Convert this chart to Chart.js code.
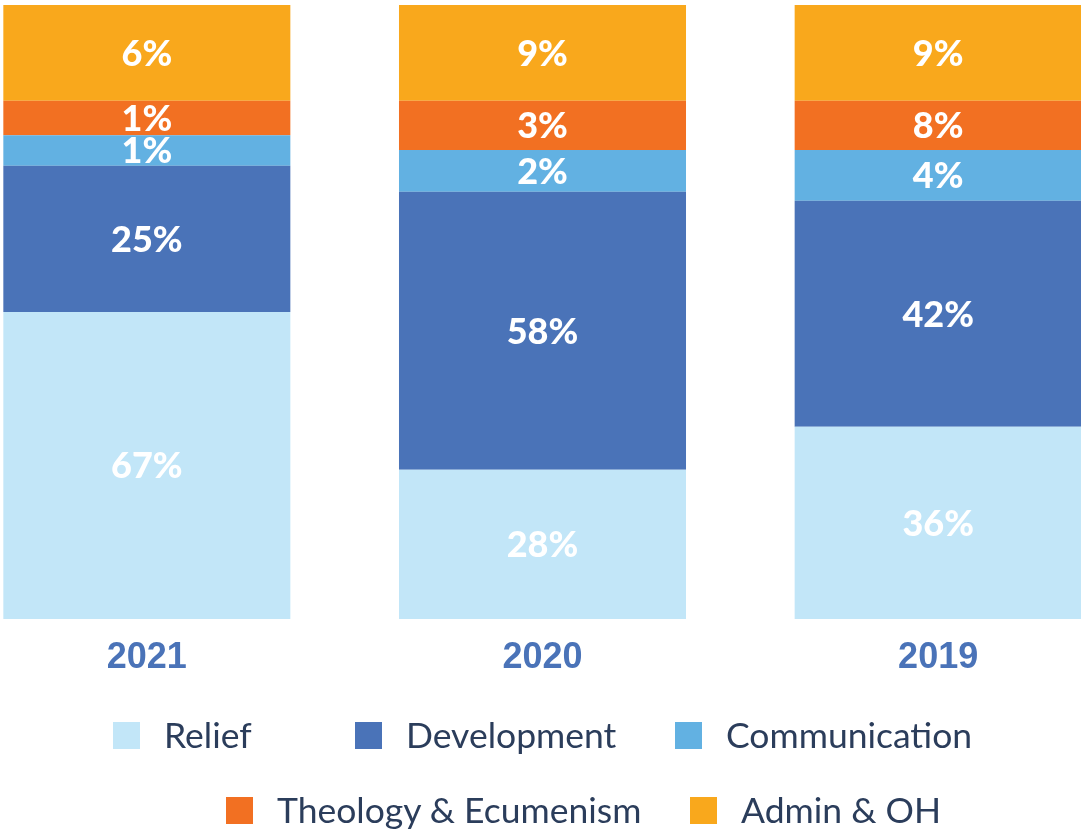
<!DOCTYPE html>
<html>
<head>
<meta charset="utf-8">
<script src="https://cdn.jsdelivr.net/npm/chart.js@4.4.1/dist/chart.umd.min.js"></script>
<style>
  html, body { margin: 0; padding: 0; background: #fff; overflow: hidden; }
  body { width: 1081px; height: 833px; position: relative; }
  #wrap { position: absolute; left: -51px; top: 0; width: 1187px; height: 700px; }
  #legend { position: absolute; left: 0; top: 0; width: 1081px; height: 833px; pointer-events: none;
            font-family: Lato, 'Noto Sans', sans-serif; font-size: 35.5px; color: #2b3d5b; }
  .item { position: absolute; display: flex; align-items: center; height: 36px; line-height: 36px; white-space: nowrap; }
  .item .box { width: 27px; height: 27px; margin-right: 24px; flex: none; }
  .item:nth-child(1) { left: 113px; top: 717px; }
  .item:nth-child(2) { left: 355px; top: 717px; }
  .item:nth-child(3) { left: 675px; top: 717px; }
  .item:nth-child(4) { left: 226px; top: 792px; }
  .item:nth-child(5) { left: 690px; top: 792px; }
</style>
</head>
<body>
<div id="wrap"><canvas id="grafico"></canvas></div>
<div id="legend"></div>
<script>
const anios = ['2021', '2020', '2019']

// alto de cada segmento (suma 100 por barra)
const relief = [50.0, 24.3, 31.3]
const development = [23.8, 45.3, 36.8]
const communication = [5.0, 6.8, 8.3]
const theology = [5.6, 8.0, 8.0]
const admin = [15.6, 15.6, 15.6]

// porcentajes que se muestran como etiqueta
const reliefPct = [67, 28, 36]
const developmentPct = [25, 58, 42]
const communicationPct = [1, 2, 4]
const theologyPct = [1, 3, 8]
const adminPct = [6, 9, 9]

const canvasGrafico = document.querySelector('#grafico')
const divLegend = document.querySelector('#legend')

const datasets = [
    { label: 'Relief', data: relief, etiquetas: reliefPct, backgroundColor: '#c2e6f8' },
    { label: 'Development', data: development, etiquetas: developmentPct, backgroundColor: '#4a73b8' },
    { label: 'Communication', data: communication, etiquetas: communicationPct, backgroundColor: '#62b1e2' },
    { label: 'Theology & Ecumenism', data: theology, etiquetas: theologyPct, backgroundColor: '#f27022' },
    { label: 'Admin & OH', data: admin, etiquetas: adminPct, backgroundColor: '#f9a81c' }
].map(ds => ({ ...ds, borderWidth: 0, barPercentage: 0.7254, categoryPercentage: 1 }))

const etiquetasPlugin = {
    id: 'etiquetas',
    afterDatasetsDraw(chart) {
        const ctx = chart.ctx
        const size = 36
        ctx.save()
        ctx.fillStyle = '#ffffff'
        ctx.font = `900 ${size}px Lato, 'Noto Sans', sans-serif`
        ctx.textAlign = 'center'
        ctx.textBaseline = 'alphabetic'
        chart.data.datasets.forEach((ds, i) => {
            chart.getDatasetMeta(i).data.forEach((bar, j) => {
                const { x, y, base } = bar.getProps(['x', 'y', 'base'], true)
                const centro = (y + base) / 2
                ctx.fillText(`${ds.etiquetas[j]}%`, x, centro + size * 0.36)
            })
        })
        ctx.restore()
    }
}

const chart = new Chart(canvasGrafico, {
    type: 'bar',
    data: { labels: anios, datasets: datasets },
    options: {
        responsive: true,
        maintainAspectRatio: false,
        animation: false,
        layout: { padding: { top: 5, left: 0, right: 0, bottom: 0 } },
        plugins: { legend: { display: false }, tooltip: { enabled: false } },
        scales: {
            x: {
                stacked: true,
                grid: { display: false, drawTicks: false },
                border: { display: false },
                ticks: {
                    color: '#4a73b8',
                    padding: 17,
                    font: { family: "'Liberation Sans', Arial, sans-serif", size: 36, weight: 'bold' }
                },
                afterFit: (scale) => { scale.height = 81 }
            },
            y: {
                stacked: true,
                display: false,
                min: 0,
                max: 100
            }
        }
    },
    plugins: [etiquetasPlugin]
})

// leyenda html construida a partir de los datasets
chart.data.datasets.forEach(ds => {
    const item = document.createElement('div')
    item.className = 'item'
    const box = document.createElement('span')
    box.className = 'box'
    box.style.background = ds.backgroundColor
    const texto = document.createElement('span')
    texto.textContent = ds.label
    item.appendChild(box)
    item.appendChild(texto)
    divLegend.appendChild(item)
})
</script>
</body>
</html>
